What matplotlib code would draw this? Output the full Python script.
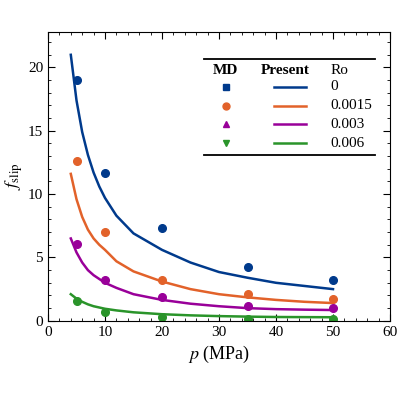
import matplotlib
matplotlib.use("Agg")
import matplotlib.pyplot as plt
from matplotlib.ticker import AutoMinorLocator

plt.rcParams['font.family'] = ['Liberation Serif', 'DejaVu Serif']
plt.rcParams['mathtext.fontset'] = 'stix'

ro_labels = ['0', '0.0015', '0.003', '0.006']
colors = ['#003a8c', '#e2622a', '#990099', '#2a942a']
legend_markers = ['s', 'o', '^', 'v']

md_p = [5, 10, 20, 35, 50]
md_f = [
    [19.0, 11.7, 7.3, 4.25, 3.2],
    [12.6, 7.0, 3.2, 2.1, 1.7],
    [6.1, 3.2, 1.9, 1.2, 1.0],
    [1.6, 0.7, 0.3, 0.15, 0.15],
]

curve_p = [4, 5, 6, 7, 8, 9, 10, 12, 15, 20, 25, 30, 35, 40, 45, 50]
curve_f = [
    [21.0, 17.4, 14.9, 13.1, 11.7, 10.6, 9.7, 8.3, 6.9, 5.6, 4.6, 3.85, 3.4, 3.0, 2.75, 2.5],
    [11.6, 9.6, 8.2, 7.2, 6.5, 6.0, 5.6, 4.7, 3.9, 3.1, 2.5, 2.1, 1.85, 1.65, 1.5, 1.4],
    [6.5, 5.4, 4.6, 4.0, 3.6, 3.3, 3.0, 2.6, 2.1, 1.65, 1.35, 1.15, 1.0, 0.92, 0.88, 0.85],
    [2.1, 1.75, 1.5, 1.3, 1.15, 1.05, 0.95, 0.82, 0.67, 0.52, 0.43, 0.37, 0.33, 0.30, 0.29, 0.28],
]

fig = plt.figure(figsize=(4, 4), dpi=100)
ax = fig.add_axes([0.12, 0.198, 0.855, 0.722])
for i in range(4):
    ax.plot(curve_p, curve_f[i], color=colors[i], lw=1.8)
    ax.plot(md_p, md_f[i], 'o', color=colors[i], ms=5.5)

ax.set_xlim(0, 60)
ax.set_ylim(0, 22.8)
ax.set_xticks(range(0, 61, 10))
ax.set_yticks([0, 5, 10, 15, 20])
ax.xaxis.set_minor_locator(AutoMinorLocator(5))
ax.yaxis.set_minor_locator(AutoMinorLocator(5))
ax.tick_params(which='both', direction='in', top=True, right=True, labelsize=11)
ax.tick_params(which='major', length=5)
ax.tick_params(which='minor', length=2.5)
ax.set_xlabel(r'$p$ (MPa)', fontsize=13)
ax.set_ylabel(r'$f_{\mathrm{slip}}$', fontsize=13, labelpad=2)

# table-style legend
T = ax.transAxes
x0, x1 = 0.455, 0.955
ax.plot([x0, x1], [0.905, 0.905], color='k', lw=1.3, transform=T, clip_on=False)
ax.plot([x0, x1], [0.575, 0.575], color='k', lw=1.3, transform=T, clip_on=False)
ax.text(0.52, 0.865, 'MD', transform=T, ha='center', va='center', fontsize=11, fontweight='bold')
ax.text(0.695, 0.865, 'Present', transform=T, ha='center', va='center', fontsize=11, fontweight='bold')
ax.text(0.825, 0.868, 'Ro', transform=T, ha='left', va='center', fontsize=11)
ys = [0.81, 0.745, 0.68, 0.615]
for i in range(4):
    ax.plot([0.52], [ys[i]], marker=legend_markers[i], color=colors[i], ms=5, transform=T, clip_on=False)
    ax.plot([0.66, 0.755], [ys[i], ys[i]], color=colors[i], lw=1.8, transform=T)
    ax.text(0.825, ys[i], ro_labels[i], transform=T, ha='left', va='center', fontsize=11)

fig.savefig('out.png', dpi=100)
